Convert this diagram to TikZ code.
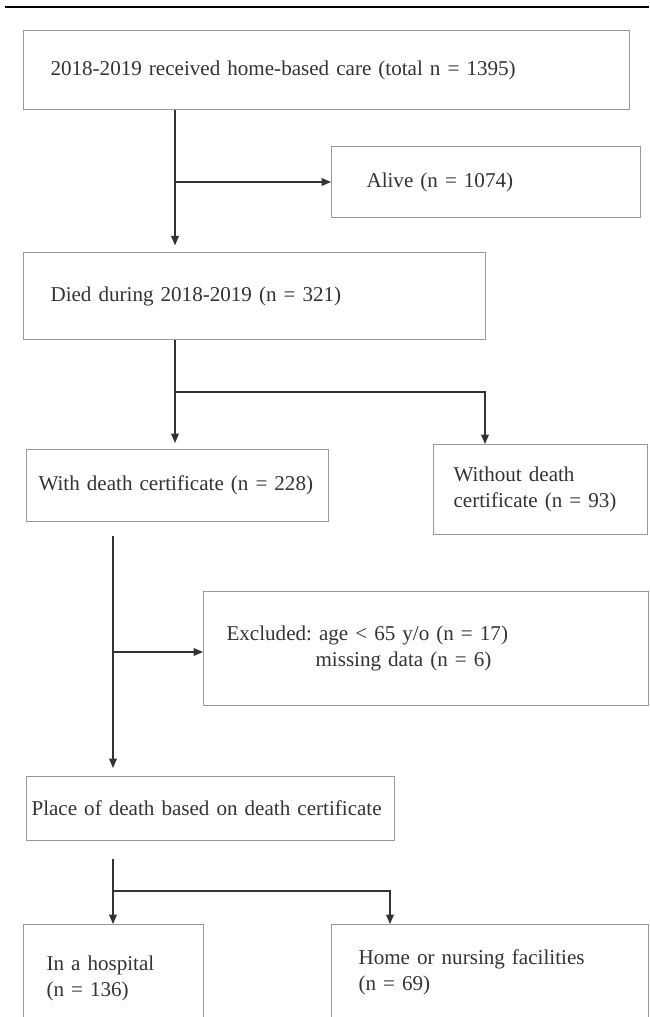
\documentclass[tikz,border=0pt]{standalone}
\usepackage{fontspec}
\setmainfont{Liberation Serif}
\usetikzlibrary{arrows.meta, positioning}
\definecolor{FlowGray}{HTML}{9A9A9A}
\definecolor{FlowInk}{HTML}{333333}
\frenchspacing

\begin{document}
\begin{tikzpicture}[x=0.03cm, y=-0.03cm,
    box/.style={draw=FlowGray, line width=0.9pt, anchor=north west, align=left, text=FlowInk, font=\fontsize{18}{22}\selectfont},
    arr/.style={draw=FlowInk, line width=0.9pt, -{Triangle[length=2.8mm, width=2.3mm]}}]
    \clip (0,0) rectangle (649,1017);

    % Header rule
    \draw[line width=2.4pt] (5,7) -- (649,7);

    % Boxes
    \node[box, inner xsep=0.81cm, text width=16.56cm, minimum height=2.37cm] (cohort) at (23,30) {2018-2019 received home-based care (total n = 1395)};
    \node[box, inner xsep=1.05cm, text width=7.17cm, minimum height=2.13cm] (alive) at (331,146) {Alive (n = 1074)};
    \node[box, inner xsep=0.81cm, text width=12.24cm, minimum height=2.61cm] (died) at (23,252) {Died during 2018-2019 (n = 321)};
    \node[box, inner xsep=0.36cm, text width=8.34cm, minimum height=2.16cm] (withdc) at (26,449) {With death certificate (n = 228)};
    \node[box, inner xsep=0.6cm, text width=5.22cm, minimum height=2.7cm] (without) at (433,444) {Without death\\certificate (n = 93)};
    \node[box, inner xsep=0.69cm, text width=11.97cm, minimum height=3.42cm] (excluded) at (203,591) {Excluded: age < 65 y/o (n = 17)\\\hspace*{2.67cm}missing data (n = 6)};
    \node[box, inner xsep=0.15cm, text width=10.74cm, minimum height=1.92cm] (place) at (26,776) {Place of death based on death certificate};
    \node[box, inner xsep=0.69cm, text width=4.02cm, minimum height=3.24cm] (hospital) at (23,924) {In a hospital\\(n = 136)};
    \node[box, inner xsep=0.81cm, text width=7.89cm, minimum height=2.88cm] (home) at (331,924) {Home or nursing facilities\\(n = 69)};

    % Alive or died
    \coordinate (trunkA) at (175,182);
    \draw[arr, shorten >=2mm] (cohort.south -| trunkA) -- (died.north -| trunkA);
    \draw[arr] (trunkA) -- (alive.west |- trunkA);

    % Death certificate split
    \coordinate (forkA) at (175,392);
    \coordinate (forkAr) at (485,392);
    \draw[arr, shorten >=1.8mm] (died.south -| forkA) -- (withdc.north -| forkA);
    \draw[arr] (forkA) -- (forkAr) -- (without.north -| forkAr);

    % Exclusions
    \coordinate (trunkB) at (113,652);
    \draw[arr, shorten <=4.2mm, shorten >=2.4mm] (withdc.south -| trunkB) -- (place.north -| trunkB);
    \draw[arr] (trunkB) -- (excluded.west |- trunkB);

    % Place of death split
    \coordinate (forkB) at (113,891);
    \coordinate (forkBr) at (390,891);
    \draw[arr, shorten <=5.4mm] (place.south -| forkB) -- (hospital.north -| forkB);
    \draw[arr] (forkB) -- (forkBr) -- (home.north -| forkBr);
\end{tikzpicture}
\end{document}
